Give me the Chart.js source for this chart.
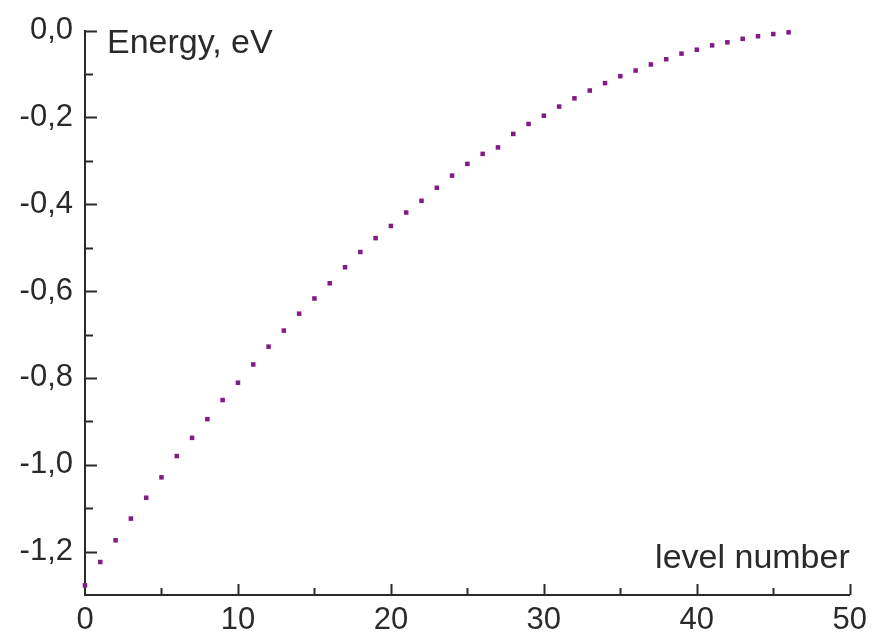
<!DOCTYPE html>
<html>
<head>
<meta charset="utf-8">
<script src="https://cdn.jsdelivr.net/npm/chart.js@4/dist/chart.umd.min.js"></script>
<style>
  body { margin: 0; background: #fff; }
  canvas { display: block; }
</style>
</head>
<body>
<canvas id="levels" width="874" height="639"></canvas>
<script>
// level index and its energy (eV)
const levels = [0, 1, 2, 3, 4, 5, 6, 7, 8, 9, 10, 11, 12, 13, 14, 15, 16, 17, 18, 19, 20, 21, 22, 23,
  24, 25, 26, 27, 28, 29, 30, 31, 32, 33, 34, 35, 36, 37, 38, 39, 40, 41, 42, 43, 44, 45, 46];
const energies = [-1.278, -1.224, -1.174, -1.124, -1.076, -1.029, -0.980, -0.938, -0.895, -0.851,
  -0.811, -0.769, -0.728, -0.691, -0.652, -0.617, -0.582, -0.545, -0.510, -0.478,
  -0.450, -0.419, -0.392, -0.362, -0.334, -0.307, -0.284, -0.269, -0.238, -0.215,
  -0.196, -0.175, -0.156, -0.138, -0.121, -0.105, -0.092, -0.078, -0.066, -0.053,
  -0.044, -0.034, -0.027, -0.019, -0.013, -0.008, -0.004];

const xTickLabels = [0, 10, 20, 30, 40, 50];
const yTickLabels = ["0,0", "-0,2", "-0,4", "-0,6", "-0,8", "-1,0", "-1,2"];
const yTitle = "Energy, eV";
const xTitle = "level number";

const font = "'Liberation Sans', Arial, sans-serif";
const ink = "#2a2a2a";

// ticks drawn inward, like the original plot
const innerTicks = {
  id: "innerTicks",
  afterDraw(chart) {
    const ctx = chart.ctx;
    const xs = chart.scales.x, ys = chart.scales.y;
    ctx.save();
    ctx.strokeStyle = ink;
    ctx.lineWidth = 2;
    ys.ticks.forEach(t => {
      const k = Math.round(t.value * 10);
      if (k === -13) return;
      const y = Math.round(ys.getPixelForValue(t.value)) + 0.5;
      const len = k % 2 === 0 ? 12 : 8;
      ctx.beginPath();
      ctx.moveTo(xs.left, y);
      ctx.lineTo(xs.left + len, y);
      ctx.stroke();
    });
    xs.ticks.forEach(t => {
      if (t.value === 0) return;
      const x = Math.round(xs.getPixelForValue(t.value)) + 0.5;
      const len = t.value % 10 === 0 ? 11 : 7;
      ctx.beginPath();
      ctx.moveTo(x, ys.bottom);
      ctx.lineTo(x, ys.bottom - len);
      ctx.stroke();
    });

    ctx.fillStyle = ink;
    ctx.font = "34px " + font;
    ctx.textBaseline = "alphabetic";
    ctx.textAlign = "left";
    ctx.fillText(yTitle, xs.left + 22, 53);
    ctx.textAlign = "right";
    ctx.fillText(xTitle, xs.right, 568);
    ctx.restore();
  }
};

new Chart(document.getElementById("levels"), {
  type: "scatter",
  data: {
    datasets: [{
      data: levels.map((l, i) => ({ x: l, y: energies[i] })),
      backgroundColor: "#821a88",
      borderWidth: 0,
      pointStyle: "rect",
      pointRadius: 3.2,
      clip: false
    }]
  },
  options: {
    responsive: false,
    animation: false,
    layout: { padding: { top: 28, right: 24, left: 0, bottom: 0 } },
    plugins: { legend: { display: false }, tooltip: { enabled: false } },
    scales: {
      x: {
        type: "linear",
        min: 0, max: 50,
        afterFit: s => { s.height = 44; },
        grid: { display: false, drawTicks: false },
        border: { color: ink, width: 2 },
        ticks: {
          stepSize: 5,
          padding: 7,
          color: ink,
          font: { family: font, size: 31 },
          maxRotation: 0,
          autoSkip: false,
          callback: v => xTickLabels.includes(v) ? String(v) : ""
        }
      },
      y: {
        min: -1.3, max: 0,
        afterFit: s => { s.width = 85; },
        grid: { display: false, drawTicks: false },
        border: { color: ink, width: 2 },
        ticks: {
          stepSize: 0.1,
          padding: 12,
          color: ink,
          font: { family: font, size: 31 },
          autoSkip: false,
          callback: v => {
            const k = Math.round(v * 10);
            return k % 2 === 0 ? yTickLabels[-k / 2] : "";
          }
        }
      }
    }
  },
  plugins: [innerTicks]
});
</script>
</body>
</html>
